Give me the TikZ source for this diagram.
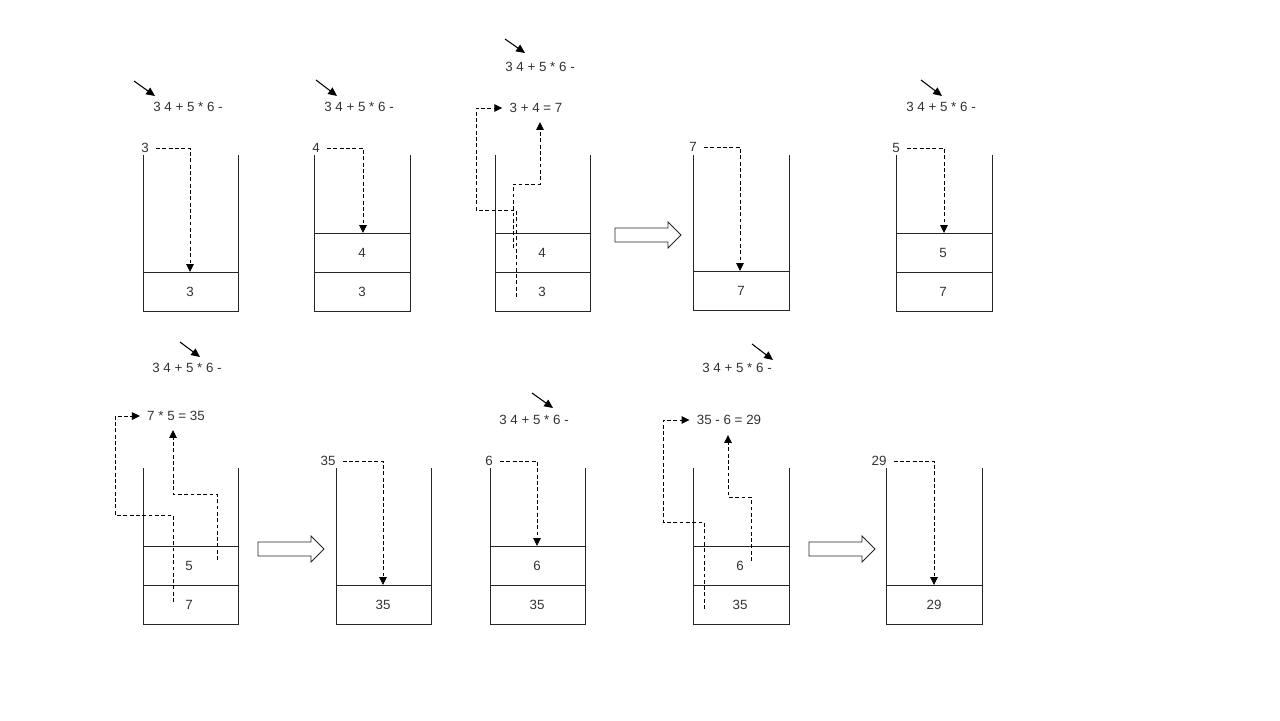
\documentclass[tikz,border=0pt]{standalone}
\usepackage{fontspec}
\setmainfont{Liberation Sans}
\usetikzlibrary{arrows.meta}

\begin{document}
\begin{tikzpicture}[x=0.02cm, y=-0.02cm,
    every node/.style={font=\fontsize{7.6}{9}\selectfont, text=black!80, inner sep=1pt},
    wall/.style={draw=black!85, line width=0.5pt},
    ptr/.style={-{Triangle[length=5pt,width=4.5pt]}, line width=0.6pt},
    flow/.style={dash pattern=on 2.2pt off 1.4pt, line width=0.5pt},
    push/.style={flow, -{Triangle[length=4.5pt,width=4.3pt]}},
    hollow/.style={draw=black!85, fill=white, line width=0.5pt}]

            \useasboundingbox (0,0) rectangle (1280,720);

            % expressions
            \node (e1) at (188,107) {3 4 + 5 * 6 -};
            \node (e2) at (359,107) {3 4 + 5 * 6 -};
            \node (e3) at (540,67) {3 4 + 5 * 6 -};
            \node (e5) at (941,107) {3 4 + 5 * 6 -};
            \node (e6) at (187,368) {3 4 + 5 * 6 -};
            \node (e8) at (534,420) {3 4 + 5 * 6 -};
            \node (e9) at (737,368) {3 4 + 5 * 6 -};

            \coordinate (k1) at (134,81);  \coordinate (t1) at (155,96);
            \coordinate (k2) at (316,80);  \coordinate (t2) at (337,96);
            \coordinate (k3) at (505,39);  \coordinate (t3) at (525,53);
            \coordinate (k5) at (921,80);  \coordinate (t5) at (942,96);
            \coordinate (k6) at (180,342); \coordinate (t6) at (200,357);
            \coordinate (k8) at (532,393); \coordinate (t8) at (553,408);
            \coordinate (k9) at (752,344); \coordinate (t9) at (773,360);
            \draw[ptr] (k1) -- (t1);
            \draw[ptr] (k2) -- (t2);
            \draw[ptr] (k3) -- (t3);
            \draw[ptr] (k5) -- (t5);
            \draw[ptr] (k6) -- (t6);
            \draw[ptr] (k8) -- (t8);
            \draw[ptr] (k9) -- (t9);

            % stacks, top row
            \draw[wall] (143,155) -- (143,311) -- (238,311) -- (238,155);
            \draw[wall] (143,272) -- (238,272);
            \draw[wall] (314,155) -- (314,311) -- (410,311) -- (410,155);
            \draw[wall] (314,233) -- (410,233);
            \draw[wall] (314,272) -- (410,272);
            \draw[wall] (495,155) -- (495,311) -- (590,311) -- (590,155);
            \draw[wall] (495,233) -- (590,233);
            \draw[wall] (495,272) -- (590,272);
            \draw[wall] (693,155) -- (693,310) -- (789,310) -- (789,155);
            \draw[wall] (693,271) -- (789,271);
            \draw[wall] (896,155) -- (896,311) -- (992,311) -- (992,155);
            \draw[wall] (896,233) -- (992,233);
            \draw[wall] (896,272) -- (992,272);

            % stacks, bottom row
            \draw[wall] (143,468) -- (143,624) -- (238,624) -- (238,468);
            \draw[wall] (143,546) -- (238,546);
            \draw[wall] (143,585) -- (238,585);
            \draw[wall] (336,468) -- (336,624) -- (431,624) -- (431,468);
            \draw[wall] (336,585) -- (431,585);
            \draw[wall] (490,468) -- (490,624) -- (585,624) -- (585,468);
            \draw[wall] (490,546) -- (585,546);
            \draw[wall] (490,585) -- (585,585);
            \draw[wall] (693,468) -- (693,624) -- (789,624) -- (789,468);
            \draw[wall] (693,546) -- (789,546);
            \draw[wall] (693,585) -- (789,585);
            \draw[wall] (886,468) -- (886,624) -- (982,624) -- (982,468);
            \draw[wall] (886,585) -- (982,585);

            % cell values
            \node (v1a) at (190,292) {3};
            \node (v2b) at (362,253) {4};
            \node (v2a) at (362,292) {3};
            \node (v3b) at (542,253) {4};
            \node (v3a) at (542,292) {3};
            \node (v4a) at (741,291) {7};
            \node (v5b) at (943,253) {5};
            \node (v5a) at (943,292) {7};
            \node (v6b) at (189,566) {5};
            \node (v6a) at (189,605) {7};
            \node (v7a) at (383,605) {35};
            \node (v8b) at (537,566) {6};
            \node (v8a) at (537,605) {35};
            \node (v9b) at (740,566) {6};
            \node (v9a) at (740,605) {35};
            \node (v10a) at (934,605) {29};

            % pushes
            \node (in1) at (145,148) {3};
            \node (in2) at (316,148) {4};
            \node (in4) at (693,147) {7};
            \node (in5) at (896,148) {5};
            \node (in7) at (328,461) {35};
            \node (in8) at (489,461) {6};
            \node (in10) at (879,461) {29};
            \coordinate (c1) at (190,272);
            \coordinate (c2) at (363,233);
            \coordinate (c4) at (740,271);
            \coordinate (c5) at (944,233);
            \coordinate (c7) at (383,585);
            \coordinate (c8) at (537,546);
            \coordinate (c10) at (934,585);
            \draw[push, shorten <=3pt] (in1) -| (c1);
            \draw[push, shorten <=3pt] (in2) -| (c2);
            \draw[push, shorten <=3pt] (in4) -| (c4);
            \draw[push, shorten <=3pt] (in5) -| (c5);
            \draw[push, shorten <=3pt] (in7) -| (c7);
            \draw[push, shorten <=3pt] (in8) -| (c8);
            \draw[push, shorten <=3pt] (in10) -| (c10);

            % pops
            \node (r1) at (536,108) {3 + 4 = 7};
            \node (r2) at (176,416) {7 * 5 = 35};
            \node (r3) at (729,420) {35 - 6 = 29};
            \coordinate (p1a) at (516,297); \coordinate (p1b) at (513,248); \coordinate (q1) at (540,122);
            \coordinate (p2a) at (173,602); \coordinate (p2b) at (217,560); \coordinate (q2) at (173,430);
            \coordinate (p3a) at (704,609); \coordinate (p3b) at (751,561); \coordinate (q3) at (728,435);
            \draw[push, shorten >=3pt] (p1a) |- (476,210) |- (r1.west);
            \draw[push] (p1b) |- (540,184) -- (q1);
            \draw[push, shorten >=3pt] (p2a) |- (115,515) |- (r2.west);
            \draw[push] (p2b) |- (173,494) -- (q2);
            \draw[push, shorten >=3pt] (p3a) |- (663,522) |- (r3.west);
            \draw[push] (p3b) |- (728,497) -- (q3);

            % result moves on
            \draw[hollow] (615,228) -- ++(53,0) -- ++(0,-6) -- ++(13,13) -- ++(-13,13) -- ++(0,-6) -- ++(-53,0) -- cycle;
            \draw[hollow] (258,542) -- ++(53,0) -- ++(0,-6) -- ++(13,13) -- ++(-13,13) -- ++(0,-6) -- ++(-53,0) -- cycle;
            \draw[hollow] (809,542) -- ++(53,0) -- ++(0,-6) -- ++(13,13) -- ++(-13,13) -- ++(0,-6) -- ++(-53,0) -- cycle;
        \end{tikzpicture}
\end{document}
